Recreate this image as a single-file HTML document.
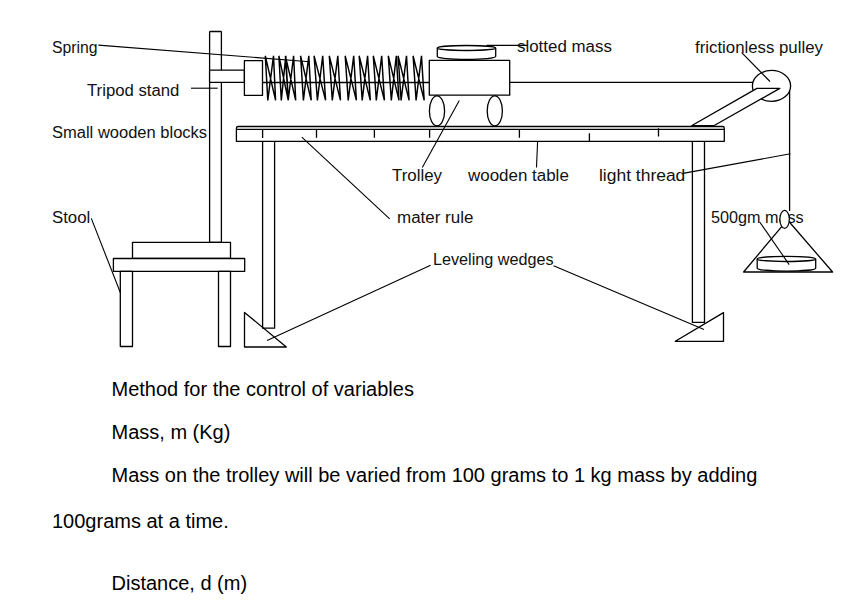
<!DOCTYPE html>
<html><head><meta charset="utf-8">
<style>
html,body{margin:0;padding:0;background:#fff;}
body{width:847px;height:610px;position:relative;overflow:hidden;}
svg{position:absolute;left:0;top:0;}
.l{position:absolute;font-family:"Liberation Sans",sans-serif;font-size:16px;line-height:18px;color:#111;white-space:pre;transform-origin:0 0;}
.t{position:absolute;font-family:"Liberation Sans",sans-serif;font-size:20px;line-height:23px;color:#000;white-space:pre;}
</style></head><body>
<svg width="847" height="610" viewBox="0 0 847 610">
<g fill="none" stroke="#000" stroke-width="1.3" stroke-linejoin="round">
<!-- tripod stand rod -->
<rect x="209.6" y="31.5" width="11.8" height="210.9" rx="0.8" fill="#fff"/>
<!-- arm -->
<rect x="209.6" y="70.2" width="34.8" height="12.2" fill="#fff"/>
<!-- spring block -->
<rect x="244.4" y="60.6" width="18.1" height="34.8" fill="#fff"/>
<!-- thread through spring -->
<line x1="262.5" y1="82.5" x2="429.3" y2="82.5"/>
<line x1="509.7" y1="82.3" x2="753" y2="82.3"/>
<!-- spring coils -->
<path stroke-width="1.45" stroke-linejoin="miter" stroke-miterlimit="3" d="M265.3 55.9L267.8 100.4L273.5 55.9L275.6 100.4M265.3 55.9L275.6 100.4M278.9 55.9L281.3 100.4L285.8 55.9L288.3 100.4M278.9 55.9L288.3 100.4M285.4 55.9L288.2 100.4L293.6 55.9L295.7 100.4M285.4 55.9L295.7 100.4M300.6 55.9L303.4 100.4L308.8 55.9L311.2 100.4M300.6 55.9L311.2 100.4M314.1 55.9L317.4 100.4L322.7 55.9L325.6 100.4M314.1 55.9L325.6 100.4M329.3 55.9L332.3 100.4L337.8 55.9L340.5 100.4M329.3 55.9L340.5 100.4M345.2 55.9L348.2 100.4L353.7 55.9L356.4 100.4M345.2 55.9L356.4 100.4M359.2 55.9L362.2 100.4L367.6 55.9L370.3 100.4M359.2 55.9L370.3 100.4M373.3 55.9L376.3 100.4L381.7 55.9L384.4 100.4M373.3 55.9L384.4 100.4M388.3 55.9L391.3 100.4L396.3 55.9L399.0 100.4M388.3 55.9L399.0 100.4M398.1 55.9L401.1 100.4L406.5 55.9L409.1 100.4M398.1 55.9L409.1 100.4M413.1 55.9L416.1 100.4L421.5 55.9L424.2 100.4M413.1 55.9L424.2 100.4"/>
<!-- trolley -->
<rect x="429.3" y="60.3" width="80.4" height="34.9" fill="#fff"/>
<ellipse cx="437" cy="110.9" rx="7.6" ry="15" fill="#fff"/>
<ellipse cx="494.8" cy="110.9" rx="7.6" ry="15" fill="#fff"/>
<!-- slotted mass -->
<path d="M437.3 48V56.6A29.2 2.8 0 0 0 495.7 56.6V48" fill="#fff"/>
<ellipse cx="466.5" cy="48" rx="29.2" ry="2.5" fill="#fff"/>
<!-- table top -->
<path d="M236.4 141.3V128.3Q236.4 126.5 238.2 126.5H722.5Q724.3 126.5 724.3 128.3V141.3Z"/>
<line x1="236.4" y1="129.3" x2="724.3" y2="129.3"/>
<!-- ruler ticks -->
<path d="M262.6 129.3V138M316.5 129.3V137.7M374.4 129.3V137.7M429.6 129.3V137.7M519.4 129.3V137.7M589.4 133.3V141.2M658.5 128.3V136.6"/>
<!-- legs -->
<path d="M262.6 141.3V328.2H274.6V141.3"/>
<path d="M692.4 141.3V322.4H704.5V141.3"/>
<!-- wedges -->
<path d="M244.5 312.4V347H286.3Z"/>
<path d="M723.5 312.6V341.3H675.3Z"/>
<!-- stool -->
<rect x="132.5" y="242.4" width="98" height="16.1"/>
<rect x="113.4" y="258.5" width="131.3" height="12.8" fill="#fff"/>
<rect x="120.3" y="271.3" width="12.2" height="75.2"/>
<rect x="218.5" y="271.3" width="12" height="75.2"/>
<!-- pulley -->
<ellipse cx="771.5" cy="85.9" rx="19.1" ry="15.5" fill="#fff"/>
<path d="M779.8 88.4H756.9L691.5 125.7H713.8Z" fill="#fff"/>
<line x1="789.6" y1="90.7" x2="789.6" y2="211"/>
<!-- hanging mass -->
<path d="M743.6 272H832.6L787.4 219.8Z"/>
<path d="M757.2 258.9V268.2A29.25 2.9 0 0 0 815.7 268.2V258.9" fill="#fff"/>
<ellipse cx="786.45" cy="258.9" rx="29.25" ry="2.6" fill="#fff"/>
</g>
<!-- label lines -->
<g stroke="#000" stroke-width="1.1">
<line x1="98.4" y1="45.1" x2="309.6" y2="61.7"/>
<line x1="191" y1="88.2" x2="217.7" y2="88.2"/>
<line x1="91.3" y1="218.4" x2="120.5" y2="293"/>
<line x1="301.8" y1="137.2" x2="389.7" y2="218.8"/>
<line x1="459.3" y1="100.5" x2="422.3" y2="167.4"/>
<line x1="537.6" y1="141.4" x2="536.5" y2="167.6"/>
<line x1="683" y1="173.4" x2="790.4" y2="153.8"/>
<line x1="430.6" y1="265.3" x2="267.1" y2="340.5"/>
<line x1="553.6" y1="265.8" x2="704" y2="329.4"/>
<line x1="486.6" y1="45.4" x2="527.9" y2="45.4"/>
<line x1="741.7" y1="52.7" x2="770" y2="81.5"/>
<line x1="759.7" y1="222" x2="789.2" y2="264.6"/>
</g>
</svg>
<div class="l" style="left:51.7px;top:39px;transform:scaleX(0.984)">Spring</div>
<div class="l" style="left:86.6px;top:82px;transform:scaleX(1.045)">Tripod stand</div>
<div class="l" style="left:51.6px;top:124px;transform:scaleX(1.032)">Small wooden blocks</div>
<div class="l" style="left:51.6px;top:209px;transform:scaleX(1.05)">Stool</div>
<div class="l" style="left:392.4px;top:166.8px;transform:scaleX(1.055)">Trolley</div>
<div class="l" style="left:467.8px;top:166.8px;transform:scaleX(1.059)">wooden table</div>
<div class="l" style="left:598.9px;top:166.5px;transform:scaleX(1.09)">light thread</div>
<div class="l" style="left:396.9px;top:208.7px;transform:scaleX(1.06)">mater rule</div>
<div class="l" style="left:432.8px;top:250.8px;transform:scaleX(1.012)">Leveling wedges</div>
<div class="l" style="left:516.7px;top:38.3px;transform:scaleX(1.056)">slotted mass</div>
<div class="l" style="left:694.7px;top:38.7px;transform:scaleX(1.05)">frictionless pulley</div>
<div class="l" style="left:711px;top:208.7px;transform:scaleX(1.012)">500gm mass</div>
<svg width="847" height="610" style="pointer-events:none"><ellipse cx="784.6" cy="219.3" rx="4.7" ry="9" fill="#fff" stroke="#000" stroke-width="1.2"/></svg>
<div class="t" style="left:111.5px;top:378px">Method for the control of variables</div>
<div class="t" style="left:111.5px;top:420.5px">Mass, m (Kg)</div>
<div class="t" style="left:111.5px;top:463.5px">Mass on the trolley will be varied from 100 grams to 1 kg mass by adding</div>
<div class="t" style="left:52px;top:509.7px">100grams at a time.</div>
<div class="t" style="left:111.5px;top:571.7px">Distance, d (m)</div>
</body></html>
